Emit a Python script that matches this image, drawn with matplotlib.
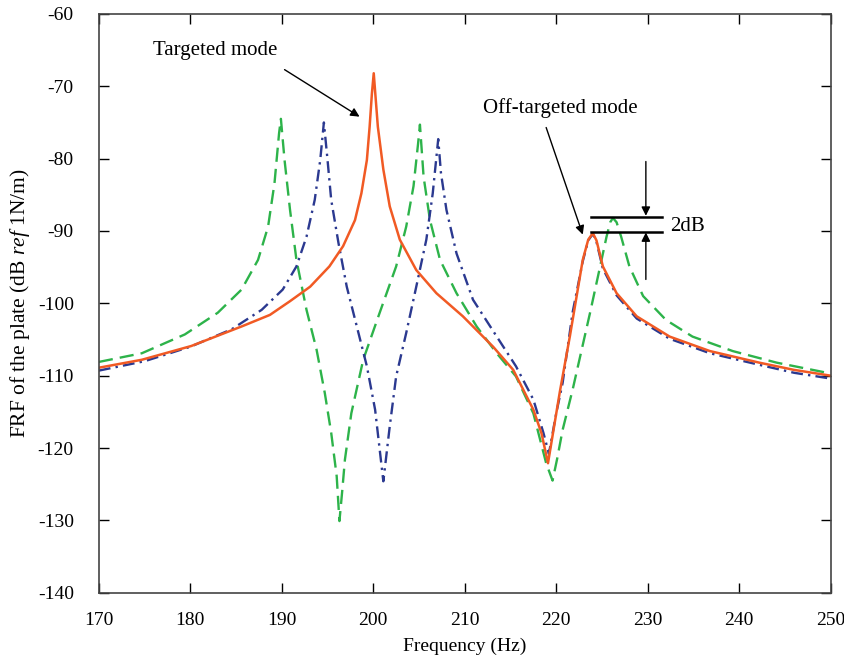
import matplotlib
matplotlib.use("Agg")
import matplotlib.pyplot as plt

plt.rcParams['font.family'] = ['Liberation Serif', 'DejaVu Serif']
plt.rcParams['mathtext.fontset'] = 'custom'
plt.rcParams['mathtext.rm'] = 'Liberation Serif'
plt.rcParams['mathtext.it'] = 'Liberation Serif:italic'
plt.rcParams['axes.unicode_minus'] = False

# targeted mode (solid orange)
f_target = [170, 174.7, 180.1, 185.6, 188.7, 190.9, 193.1, 195.2, 196.7, 198.0,
            198.7, 199.3, 199.6, 199.85, 200.05, 200.25, 200.5, 201.1, 201.8, 202.9,
            204.7, 206.9, 209.8, 213.1, 215.3, 217.5, 218.4, 219.1, 220.4, 221.5,
            222.9, 223.5, 224.0, 224.4, 225.1, 226.6, 228.8, 232.4, 236.8, 242.2,
            246.0, 250]
db_target = [-108.9, -107.8, -105.9, -103.2, -101.6, -99.7, -97.7, -94.9, -92.1, -88.5,
             -84.8, -80.2, -75.6, -71.0, -68.2, -71.5, -75.6, -81.5, -86.6, -91.2,
             -95.4, -98.6, -101.8, -106.0, -109.2, -114.7, -118.0, -122.1, -112.2, -104.5,
             -94.0, -91.2, -90.3, -91.3, -94.9, -98.6, -101.8, -104.6, -106.6, -108.2,
             -109.2, -110.0]

# blue dash-dot curve
f_blue = [170, 175, 180, 184.5, 187.8, 190.1, 191.6, 192.7, 193.6, 194.2,
          194.6, 195.0, 195.4, 196.2, 197.1, 198.2, 199.3, 200.2, 200.7, 201.1,
          201.8, 202.5, 203.6, 204.7, 205.8, 206.5, 207.1, 207.4, 208.0, 209.1,
          210.9, 213.5, 215.6, 217.5, 218.6, 219.2, 220.0, 220.7, 221.8, 222.9,
          223.5, 224.0, 224.4, 225.1, 226.6, 228.8, 232.4, 236.8, 242.2, 246.0,
          250]
db_blue = [-109.3, -108.0, -106.0, -103.6, -100.9, -98.1, -94.9, -90.8, -85.7, -80.2,
           -75.0, -80.2, -85.7, -91.7, -97.7, -103.2, -108.7, -114.7, -120.2, -124.6,
           -117.0, -110.1, -104.1, -97.7, -91.2, -84.8, -77.3, -82.0, -87.1, -93.1,
           -99.5, -104.6, -108.7, -113.3, -117.9, -120.8, -115.2, -111.0, -101.2, -94.2,
           -91.3, -90.4, -91.5, -95.2, -98.9, -102.1, -104.9, -106.9, -108.5, -109.6,
           -110.4]

# green dashed curve
f_green = [170, 174.7, 179.4, 183.0, 185.6, 187.4, 188.5, 189.2, 189.7, 189.9,
           190.3, 190.9, 191.6, 192.7, 193.8, 194.7, 195.4, 196.0, 196.3, 196.6,
           196.9, 197.6, 198.9, 200.7, 202.5, 203.6, 204.4, 204.9, 205.1, 205.5,
           206.2, 207.3, 209.1, 211.3, 213.5, 215.6, 217.5, 218.9, 219.6, 220.1,
           220.7, 221.8, 223.7, 224.8, 225.5, 225.9, 226.2, 226.6, 227.1, 228.0,
           229.5, 232.0, 234.9, 239.3, 244.1, 250]
db_green = [-108.1, -106.9, -104.3, -101.3, -98.1, -94.0, -89.4, -83.4, -76.5, -74.5,
            -80.2, -87.1, -94.0, -100.9, -106.4, -112.4, -117.9, -123.9, -130.1, -126.0,
            -121.6, -115.2, -107.8, -101.3, -94.9, -89.4, -83.8, -77.9, -75.3, -82.5,
            -88.5, -94.0, -98.6, -103.2, -106.9, -110.1, -115.2, -122.1, -124.5, -121.5,
            -117.5, -111.9, -101.3, -94.9, -90.8, -88.8, -88.2, -88.8, -90.8, -94.9,
            -99.0, -102.3, -104.6, -106.6, -108.2, -109.7]

x_ticks = [170, 180, 190, 200, 210, 220, 230, 240, 250]
y_ticks = [-140, -130, -120, -110, -100, -90, -80, -70, -60]

fig = plt.figure(figsize=(8.45, 6.63), dpi=100)
ax = fig.add_axes([0.117, 0.106, 0.866, 0.873])

ax.plot(f_green, db_green, color='#2DB34A', lw=1.7, dashes=(6, 3))
ax.plot(f_blue, db_blue, color='#2B3990', lw=1.7, dashes=(5, 2.2, 1, 2.2))
ax.plot(f_target, db_target, color='#F15A24', lw=1.8)

ax.set_xlim(170, 250)
ax.set_ylim(-140, -60)
ax.set_xticks(x_ticks)
ax.set_yticks(y_ticks)
ax.tick_params(direction='in', length=7, width=1, top=True, right=True,
               labelsize=14)
ax.tick_params(axis='x', pad=14)
ax.tick_params(axis='y', pad=18)
for sp in ax.spines.values():
    sp.set_color('#444444')
    sp.set_linewidth(1.2)

ax.set_xlabel('Frequency (Hz)', fontsize=14, labelpad=6)
ax.set_ylabel(r'FRF of the plate (dB $\it{ref}$ 1N/m)', fontsize=15.5, labelpad=4)

arrow = dict(arrowstyle='-|>', color='black', lw=1.0, mutation_scale=13,
             shrinkA=0, shrinkB=0)
ax.text(182.7, -65.0, 'Targeted mode', fontsize=15, ha='center', va='center')
ax.annotate('', xy=(198.5, -74.2), xytext=(190.3, -67.7), arrowprops=arrow)
ax.text(220.4, -73.0, 'Off-targeted mode', fontsize=15, ha='center', va='center')
ax.annotate('', xy=(222.9, -90.5), xytext=(218.9, -75.7), arrowprops=arrow)

# 2dB marker
ax.plot([223.8, 231.6], [-88.0, -88.0], color='black', lw=1.8)
ax.plot([223.8, 231.6], [-90.15, -90.15], color='black', lw=1.8)
ax.annotate('', xy=(229.8, -87.9), xytext=(229.8, -80.4), arrowprops=arrow)
ax.annotate('', xy=(229.8, -90.2), xytext=(229.8, -96.7), arrowprops=arrow)
ax.text(232.4, -89.4, '2dB', fontsize=15, ha='left', va='center')

fig.savefig('out.png', dpi=100)
